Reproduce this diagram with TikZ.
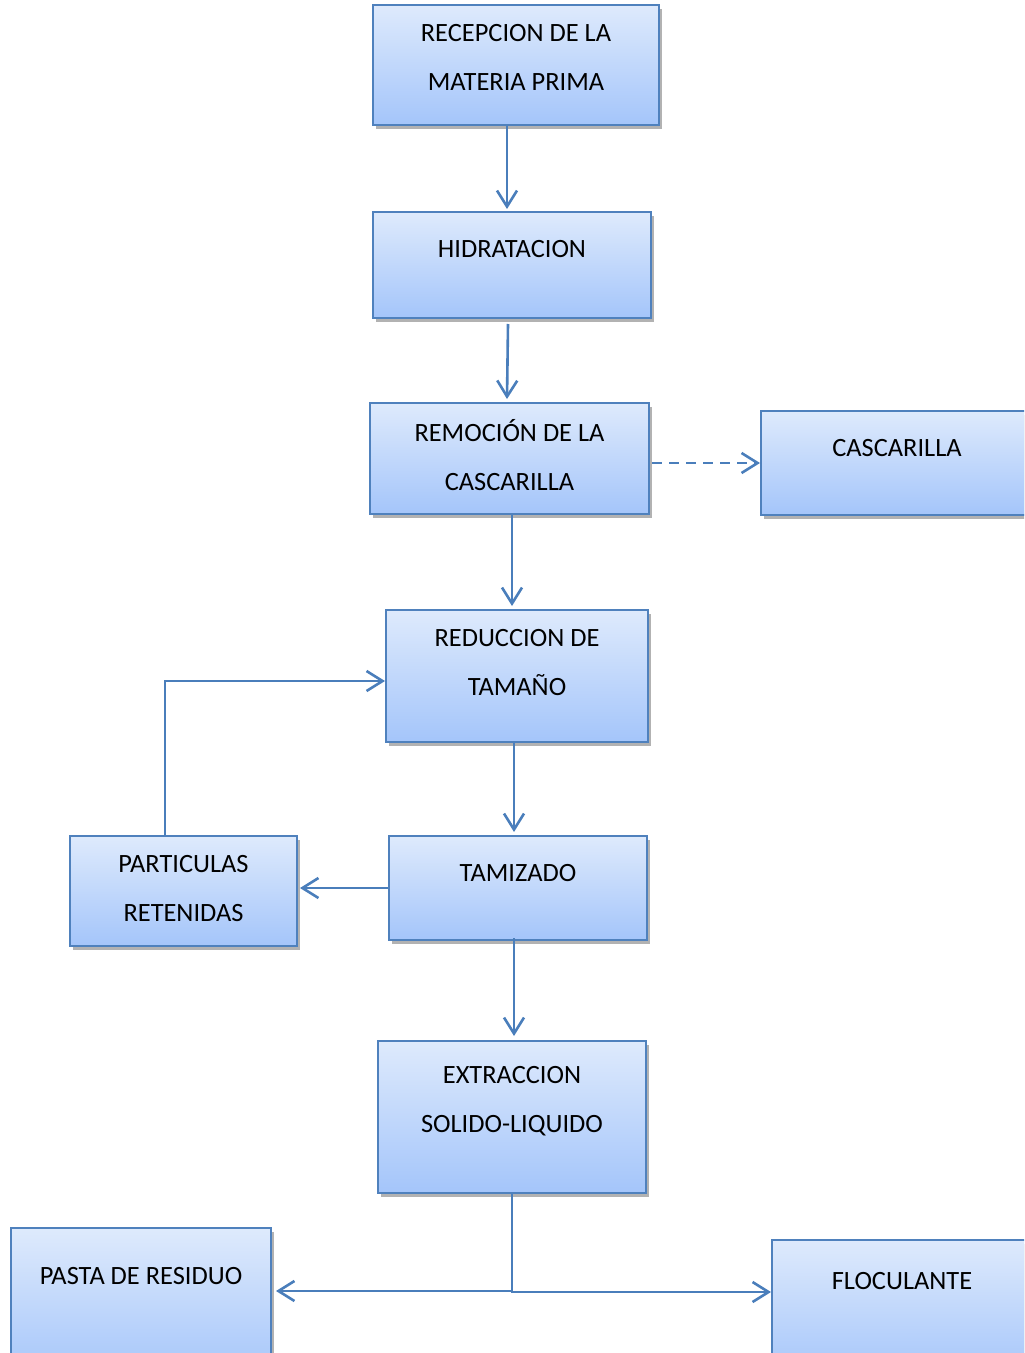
\documentclass[tikz,border=0pt]{standalone}
\usepackage{fontspec}
\setmainfont{Carlito}
\usetikzlibrary{arrows.meta,shadows}
\definecolor{boxtop}{RGB}{222,234,252}
\definecolor{boxbot}{RGB}{164,197,250}
\definecolor{boxline}{RGB}{79,129,189}
\definecolor{flowline}{RGB}{74,126,187}
\tikzset{
  blk/.style={shape=rectangle, draw=boxline, line width=1pt, top color=boxtop, bottom color=boxbot,
    drop shadow={shadow xshift=1.5pt, shadow yshift=-1.8pt, fill=black, opacity=0.3}},
  txt/.style={anchor=center, align=center, inner sep=0pt, font=\fontsize{13.2}{24.5}\selectfont},
  flow/.style={draw=flowline, line width=1.3pt, -{Straight Barb[length=8pt, width=10pt]}},
}
\begin{document}
\begin{tikzpicture}[x=0.5pt, y=-0.5pt]
	\useasboundingbox (0, 0) rectangle (1024, 1353);
	\clip (0, 0) rectangle (1024, 1353);
	\node[blk, minimum width=143pt, minimum height=60pt] (recep) at (516, 65){} node[txt] at (516, 57.5){RECEPCION DE LA\\MATERIA PRIMA};
	\node[blk, minimum width=139pt, minimum height=53pt] (hidra) at (512, 265){} node[txt] at (512, 249){HIDRATACION};
	\node[blk, minimum width=139.5pt, minimum height=55.5pt] (remoc) at (509.5, 458.5){} node[txt] at (509.5, 455.5){REMOCIÓN DE LA\\CASCARILLA};
	\node[blk, minimum width=150pt, minimum height=52pt] (casca) at (911, 463){} node[txt] at (897, 448){CASCARILLA};
	\node[blk, minimum width=131pt, minimum height=66pt] (reduc) at (517, 676){} node[txt] at (517, 662.5){REDUCCION DE\\TAMAÑO};
	\node[blk, minimum width=129pt, minimum height=52pt] (tamiz) at (518, 888){} node[txt] at (518, 873){TAMIZADO};
	\node[blk, minimum width=113.5pt, minimum height=55pt] (parti) at (183.5, 891){} node[txt] at (183.5, 888.5){PARTICULAS\\RETENIDAS};
	\node[blk, minimum width=134pt, minimum height=76pt] (extra) at (512, 1117){} node[txt] at (512, 1101.5){EXTRACCION\\SOLIDO-LIQUIDO};
	\node[blk, minimum width=130pt, minimum height=76pt] (pasta) at (141, 1304){} node[txt] at (141, 1276){PASTA DE RESIDUO};
	\node[blk, minimum width=140pt, minimum height=70pt] (flocu) at (912, 1310){} node[txt] at (902, 1281){FLOCULANTE};
	% main line
	\draw[flow] ([xshift=-4.5pt]recep.south) -- ([xshift=-2.5pt, yshift=1pt]hidra.north);
	\draw[flow] ([xshift=-2pt, yshift=-2.5pt]hidra.south) -- ([xshift=-1.25pt, yshift=1.5pt]remoc.north);
	\draw[flow, dashed, dash pattern={on 5pt off 3.5pt}] ([xshift=1pt]remoc.east |- casca.west) -- (casca.west);
	\draw[flow] ([xshift=1.25pt]remoc.south) -- ([xshift=-2.5pt, yshift=1.5pt]reduc.north);
	\draw[flow] ([xshift=-1.5pt]reduc.south) -- ([xshift=-2pt, yshift=1.5pt]tamiz.north);
	% recycle of retained particles
	\draw[flow] (tamiz.west) -- ([xshift=1pt]tamiz.west -| parti.east);
	\draw[flow] ([xshift=-9.25pt]parti.north) |- ([yshift=-2.5pt]reduc.west);
	\draw[flow] ([xshift=-2pt, yshift=1.5pt]tamiz.south) -- ([xshift=1pt, yshift=2pt]extra.north);
	% outputs
	\draw[flow] (extra.south) |- ([xshift=2pt, yshift=6.5pt]pasta.east);
	\draw[flow] (extra.south) |- ([yshift=9pt]flocu.west);
\end{tikzpicture}
\end{document}
